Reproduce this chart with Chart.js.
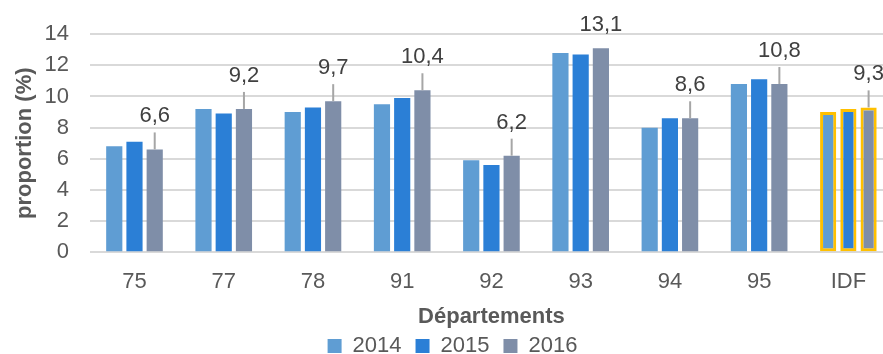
<!DOCTYPE html>
<html lang="fr">
<head>
<meta charset="utf-8">
<script src="https://cdn.jsdelivr.net/npm/chart.js@4"></script>
<style>
  html, body { margin: 0; padding: 0; background: #fff; overflow: hidden; }
  #wrap { position: absolute; left: 0; top: 0; width: 896px; height: 354px; }
</style>
</head>
<body>
<div id="wrap"><canvas id="chart"></canvas></div>
<script>
// données par département
const departements = ['75', '77', '78', '91', '92', '93', '94', '95', 'IDF'];
const annees = ['2014', '2015', '2016'];
const prop2014 = [6.8, 9.2, 9.0, 9.5, 5.9, 12.8, 8.0, 10.8, 9.0];
const prop2015 = [7.1, 8.9, 9.3, 9.9, 5.6, 12.7, 8.6, 11.1, 9.2];
const prop2016 = [6.6, 9.2, 9.7, 10.4, 6.2, 13.1, 8.6, 10.8, 9.3];
const yTicks = [0, 2, 4, 6, 8, 10, 12, 14];

const couleurs = ['#5f9dd3', '#2b7fd6', '#7f8ea8'];
const idxRegion = departements.indexOf('IDF');
const FONT = 'Liberation Sans, Arial, sans-serif';

const fmt = v => v.toFixed(1).replace('.', ',');

// étiquettes de 2016 avec trait de rappel
const etiquettes2016 = {
  id: 'etiquettes2016',
  afterDatasetsDraw(chart) {
    const ctx = chart.ctx;
    const meta = chart.getDatasetMeta(2);
    ctx.save();
    ctx.font = '22px ' + FONT;
    ctx.fillStyle = '#404040';
    ctx.textAlign = 'center';
    ctx.textBaseline = 'middle';
    meta.data.forEach((bar, i) => {
      const top = bar.y;
      const ly = Math.max(top - 33, 25);
      if (top - ly > 24) {
        ctx.strokeStyle = '#a6a6a6';
        ctx.lineWidth = 2;
        ctx.beginPath();
        ctx.moveTo(bar.x, ly + 16);
        ctx.lineTo(bar.x, top);
        ctx.stroke();
      }
      ctx.fillText(fmt(prop2016[i]), bar.x, ly);
    });
    ctx.restore();
  }
};

const series = [prop2014, prop2015, prop2016];

new Chart(document.getElementById('chart'), {
  type: 'bar',
  data: {
    labels: departements,
    datasets: annees.map((a, k) => ({
      label: a,
      data: series[k],
      backgroundColor: couleurs[k],
      borderColor: c => c.dataIndex === idxRegion ? '#ffc000' : 'rgba(0,0,0,0)',
      borderWidth: c => c.dataIndex === idxRegion ? 3 : 0,
      borderSkipped: false,
      barPercentage: 0.8,
      categoryPercentage: 0.68
    }))
  },
  options: {
    responsive: true,
    maintainAspectRatio: false,
    animation: false,
    layout: { padding: { top: 24, right: 3, left: 12, bottom: -13 } },
    plugins: {
      tooltip: { enabled: false },
      legend: {
        position: 'bottom',
        labels: {
          font: { family: FONT, size: 22 },
          color: '#595959',
          boxWidth: 14,
          boxHeight: 14,
          padding: 14
        }
      }
    },
    scales: {
      x: {
        grid: { display: false, drawTicks: false },
        border: { display: false },
        ticks: { font: { family: FONT, size: 22 }, color: '#595959', padding: 17 },
        title: {
          display: true,
          text: 'Départements',
          font: { family: FONT, size: 22, weight: 'bold' },
          color: '#595959',
          padding: { top: -9, bottom: -9 }
        }
      },
      y: {
        min: 0,
        max: 14,
        afterBuildTicks: axis => { axis.ticks = yTicks.map(v => ({ value: v })); },
        grid: { color: '#d9d9d9', lineWidth: 2, drawTicks: false },
        border: { display: false },
        ticks: { font: { family: FONT, size: 22 }, color: '#595959', padding: 21, autoSkip: false },
        title: {
          display: true,
          text: 'proportion (%)',
          font: { family: FONT, size: 22, weight: 'bold' },
          color: '#595959',
          padding: { top: 0, bottom: -15 }
        }
      }
    }
  },
  plugins: [etiquettes2016]
});
</script>
</body>
</html>
